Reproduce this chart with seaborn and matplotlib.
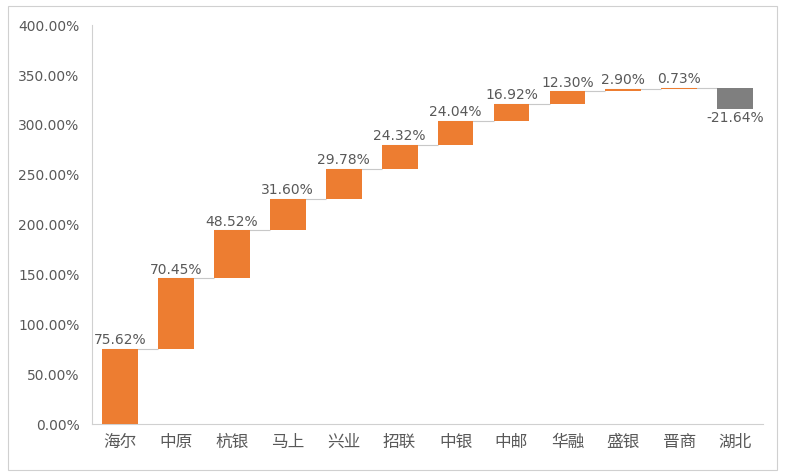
import numpy as np
import pandas as pd
import matplotlib
matplotlib.use('Agg')
import matplotlib.pyplot as plt
import seaborn as sns

BANKS = ['海尔', '中原', '杭银', '马上', '兴业', '招联', '中银', '中邮', '华融', '盛银', '晋商', '湖北']
CHANGE = [75.62, 70.45, 48.52, 31.60, 29.78, 24.32, 24.04, 16.92, 12.30, 2.90, 0.73, -21.64]
Y_TICKS = [0, 50, 100, 150, 200, 250, 300, 350, 400]

ORANGE = '#ED7D31'
GREY = '#7F7F7F'
TEXT = '#595959'


def main():
    sns.set_theme(style='white')
    plt.rcParams['font.family'] = ['Noto Sans CJK SC', 'DejaVu Sans']

    df = pd.DataFrame({'bank': BANKS, 'change': CHANGE})
    df['end'] = df['change'].cumsum()
    df['start'] = df['end'] - df['change']

    fig = plt.figure(figsize=(7.86, 4.76), dpi=100)
    ax = fig.add_axes([0.117, 0.109, 0.854, 0.838])

    sns.barplot(data=df, x='bank', y='change', bottom=df['start'].to_numpy(),
                width=0.64, color=ORANGE, saturation=1, ax=ax, zorder=3)
    for patch, val in zip(ax.patches, df['change']):
        patch.set_facecolor(ORANGE if val >= 0 else GREY)
        patch.set_edgecolor('none')

    # connectors between bars
    ends = df['end'].to_numpy()
    x = np.arange(len(BANKS))
    ax.hlines(ends[:-1], x[:-1] - 0.32, x[1:] - 0.32, color='#c8c8c8', lw=0.8, zorder=2)

    for i, (val, end) in enumerate(zip(df['change'], ends)):
        if val >= 0:
            ax.text(i, end + 1.5, f'{val:.2f}%', ha='center', va='bottom',
                    fontsize=10, color=TEXT, family='DejaVu Sans')
        else:
            ax.text(i, end - 1.5, f'{val:.2f}%', ha='center', va='top',
                    fontsize=10, color=TEXT, family='DejaVu Sans')

    ax.set_xlim(-0.5, len(BANKS) - 0.5)
    ax.set_ylim(0, 400)
    ax.set_yticks(Y_TICKS)
    ax.set_yticklabels([f'{t:.2f}%' for t in Y_TICKS], family='DejaVu Sans')
    ax.tick_params(axis='both', length=0, colors=TEXT, labelsize=10)
    ax.tick_params(axis='y', pad=9)
    ax.tick_params(axis='x', labelsize=12, pad=7)
    ax.set_xlabel('')
    ax.set_ylabel('')

    for side in ['top', 'right']:
        ax.spines[side].set_visible(False)
    for side in ['left', 'bottom']:
        ax.spines[side].set_color('#d0d0d0')
        ax.spines[side].set_linewidth(0.8)

    border = plt.Rectangle((0.010, 0.013), 0.979, 0.975, transform=fig.transFigure,
                           fill=False, edgecolor='#d0d0d0', lw=0.8)
    fig.patches.append(border)

    fig.savefig('out.png', dpi=100)


if __name__ == '__main__':
    main()
